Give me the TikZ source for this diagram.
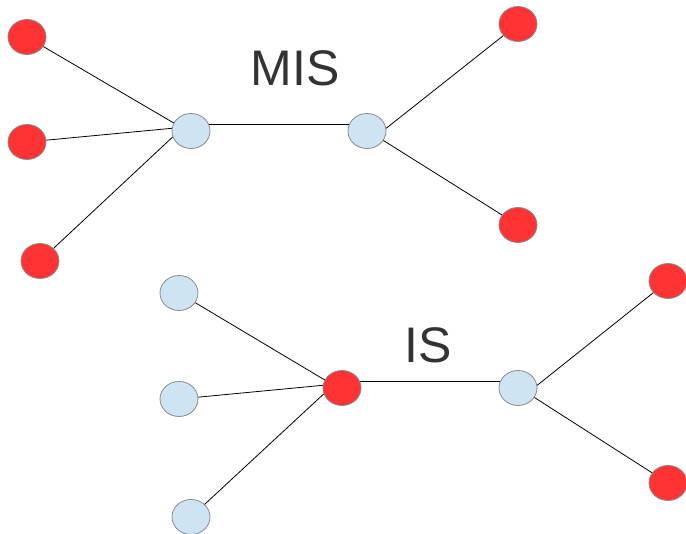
\documentclass[tikz,border=0pt]{standalone}
\usepackage{fontspec}
\setmainfont{Liberation Sans}
\usetikzlibrary{shapes.geometric}
\definecolor{vertexRed}{HTML}{FF3333}
\definecolor{vertexBlue}{HTML}{CFE4F3}
\definecolor{vertexBorder}{HTML}{8A8A8A}
\definecolor{labelGray}{HTML}{333333}
\tikzset{%
	every vertex/.style={
		ellipse,
		draw=vertexBorder,
		line width=0.8pt,
		minimum width=38pt,
		minimum height=35pt,
		inner sep=0pt
	},
	red vertex/.style={
		every vertex,
		fill=vertexRed
	},
	blue vertex/.style={
		every vertex,
		fill=vertexBlue
	},
	set label/.style={
		text=labelGray,
		font=\fontsize{50}{50}\selectfont
	},
	tree edge/.style={
		draw=black,
		line width=0.8pt
	},
}

\begin{document}
\begin{tikzpicture}[x=1pt,y=-1pt]
			\useasboundingbox (0,0) rectangle (686,534);
			
			% Upper tree: the two inner vertices are blue, the leaves red
			\node[blue vertex] (misA) at (191,131) {};
			\node[blue vertex] (misB) at (367,131) {};
			\foreach \name/\pos in {misL1/{(27,37)},misL2/{(27,142)},misL3/{(40,261)},misR1/{(518,24)},misR2/{(518,225)}} {
				\node[red vertex] (\name) at \pos {};
			}
			\node[set label] (misLabel) at (295,68) {MIS};
			
			% Lower tree: one inner vertex is red
			\node[red vertex] (isA) at (342,388) {};
			\node[blue vertex] (isB) at (518,388) {};
			\foreach \name/\pos in {isL1/{(179,293)},isL2/{(179,399)},isL3/{(191,517)}} {
				\node[blue vertex] (\name) at \pos {};
			}
			\foreach \name/\pos in {isR1/{(668,281)},isR2/{(668,483)}} {
				\node[red vertex] (\name) at \pos {};
			}
			\node[set label] (isLabel) at (428,345) {IS};
			
			% Edges, hooked to fixed points on the inner vertices
			\foreach \t in {mis,is} {
				\draw[tree edge] (\t A.20) -- (\t B.160);
				\draw[tree edge] (\t L1) -- (\t A.155);
				\draw[tree edge] (\t L2) -- (\t A.172);
				\draw[tree edge] (\t L3) -- (\t A.198);
				\draw[tree edge] (\t B.8) -- (\t R1);
				\draw[tree edge] (\t B.-30) -- (\t R2);
			}
		\end{tikzpicture}
\end{document}
